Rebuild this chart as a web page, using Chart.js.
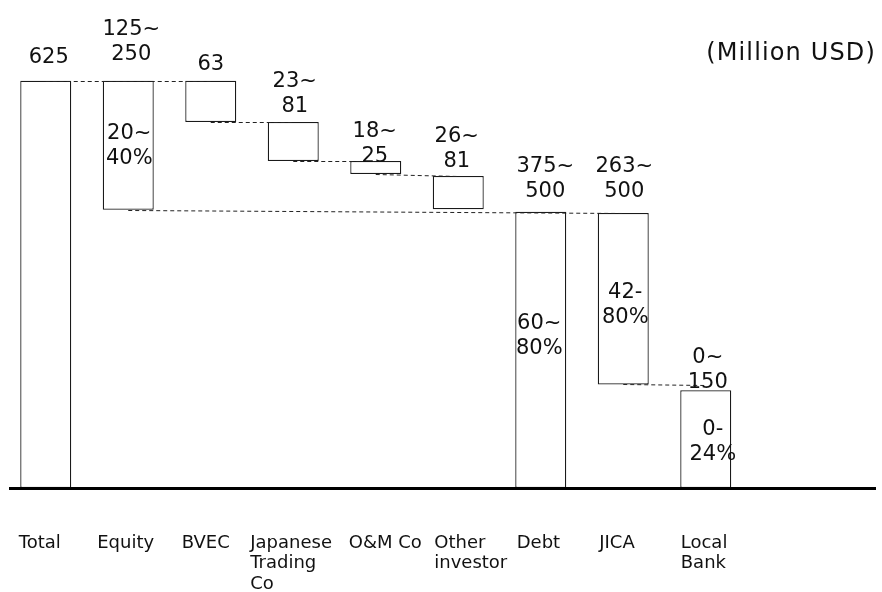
<!DOCTYPE html>
<html>
<head>
<meta charset="utf-8">
<title>Project financing structure</title>
<script src="https://cdn.jsdelivr.net/npm/chart.js@4/dist/chart.umd.min.js"></script>
<style>
  html, body { margin: 0; padding: 0; background: #ffffff; }
  #wrap { width: 882px; height: 592px; }
</style>
</head>
<body>
<div id="wrap"><canvas id="chart" width="882" height="592"></canvas></div>
<script>
// Financing sources (Million USD): each bar spans [low, high]
const categories = ['Total', 'Equity', 'BVEC', 'Japanese Trading Co', 'O&M Co', 'Other investor', 'Debt', 'JICA', 'Local Bank'];
const tickLabels = [['Total'], ['Equity'], ['BVEC'], ['Japanese', 'Trading', 'Co'], ['O&M Co'], ['Other', 'investor'], ['Debt'], ['JICA'], ['Local', 'Bank']];
const barLow  = [0,   427, 562, 502, 482, 428, 0,   159, 0];
const barHigh = [625, 625, 625, 562, 502, 479, 424, 422, 150];

// Amount ranges written above each bar, and share of total written inside
const valueLabels = [['625'], ['125~', '250'], ['63'], ['23~', '81'], ['18~', '25'], ['26~', '81'], ['375~', '500'], ['263~', '500'], ['0~', '150']];
const shareLabels = [null, ['20~', '40%'], null, null, null, null, ['60~', '80%'], ['42-', '80%'], ['0-', '24%']];
const unitLabel = '(Million USD)';

// Dashed bridges: [from bar, edge, to bar, edge]; a null end edge keeps the line level
const bridges = [
  [0, 'high', 2, 'high'],
  [2, 'low', 3, 'high'],
  [3, 'low', 4, 'high'],
  [4, 'low', 5, 'high'],
  [1, 'low', 7, 'high'],
  [7, 'low', 8, null]
];

const FONT = '"DejaVu Sans", Verdana, sans-serif';

const edgeValue = (i, edge) => (edge === 'low' ? barLow[i] : barHigh[i]);

const waterfallNotes = {
  id: 'waterfallNotes',
  beforeDraw(chart, args, opts) {
    // fine horizontal placement of individual category labels
    const xs = chart.scales.x;
    if (typeof xs.getLabelItems !== 'function') return;
    const items = xs.getLabelItems();
    items.forEach((item, i) => {
      const n = opts.tickNudge[i] || 0;
      if (n && item.options && item.options.translation && !item._nudged) {
        item.options.translation[0] += n;
        item._nudged = true;
      }
    });
  },
  afterDatasetsDraw(chart, args, opts) {
    const ctx = chart.ctx;
    const meta = chart.getDatasetMeta(0);
    const yScale = chart.scales.y;
    ctx.save();

    // bridges between bars
    ctx.strokeStyle = opts.bridgeColor;
    ctx.lineWidth = 1;
    ctx.setLineDash(opts.dash);
    bridges.forEach(([a, ea, b, eb]) => {
      const y1 = Math.round(yScale.getPixelForValue(edgeValue(a, ea))) + 0.5;
      const y2 = eb ? Math.round(yScale.getPixelForValue(edgeValue(b, eb))) + 0.5 : y1 + 1;
      ctx.beginPath();
      ctx.moveTo(meta.data[a].x, y1);
      ctx.lineTo(meta.data[b].x, y2);
      ctx.stroke();
    });
    ctx.setLineDash([]);

    ctx.fillStyle = opts.textColor;
    ctx.font = opts.labelSize + 'px ' + FONT;
    ctx.textAlign = 'center';
    ctx.textBaseline = 'alphabetic';
    const capHalf = opts.labelSize * 0.729 / 2;

    meta.data.forEach((bar, i) => {
      const top = Math.min(bar.y, bar.base);
      const bottom = Math.max(bar.y, bar.base);

      // amount above the bar
      const lines = valueLabels[i];
      const [dx, gap] = opts.valueShift[i];
      lines.forEach((t, k) => {
        ctx.fillText(t, bar.x + dx, top - gap - (lines.length - 1 - k) * opts.lineStep);
      });

      // share inside the bar
      const inner = shareLabels[i];
      if (inner) {
        const [sx, sy] = opts.shareShift[i];
        const mid = (top + bottom) / 2 + sy;
        inner.forEach((t, k) => {
          const yy = mid - (inner.length - 1) / 2 * opts.lineStep + k * opts.lineStep + capHalf;
          ctx.fillText(t, bar.x + sx, yy);
        });
      }
    });

    // unit note, top right
    ctx.font = opts.unitSize + 'px ' + FONT;
    ctx.textAlign = 'right';
    try { ctx.letterSpacing = '1.15px'; } catch (e) {}
    ctx.fillText(unitLabel, chart.chartArea.right + 1, opts.unitBaseline);
    try { ctx.letterSpacing = '0px'; } catch (e) {}

    ctx.restore();
  }
};

const points = categories.map((c, i) => ({ x: i, y: [barLow[i], barHigh[i]] }));

new Chart(document.getElementById('chart'), {
  type: 'bar',
  data: {
    datasets: [{
      label: 'Financing',
      data: points,
      backgroundColor: '#ffffff',
      borderColor: '#1a1a1a',
      borderWidth: 1.25,
      borderSkipped: false,
      inflateAmount: 0,
      barThickness: 51
    }]
  },
  options: {
    responsive: false,
    animation: false,
    events: [],
    layout: { padding: { left: 10, right: 7, top: 32, bottom: 0 } },
    plugins: {
      legend: { display: false },
      tooltip: { enabled: false },
      title: { display: false },
      waterfallNotes: {
        bridgeColor: '#222222',
        textColor: '#111111',
        dash: [4, 3],
        labelSize: 21,
        lineStep: 25,
        unitSize: 24,
        unitBaseline: 60,
        tickNudge: [0, -4, -2, -16, 0, 3, 3, 3, 2],
        valueShift: [[3, 18], [3, 21], [0, 11], [1.5, 10], [-1, -1], [-1.5, 9], [4.5, 15], [1, 16], [2, 2]],
        shareShift: [[0, 0], [1, -2], [0, 0], [0, 0], [0, 0], [0, 0], [-1.5, -16], [2, 4], [7, 1]]
      }
    },
    scales: {
      x: {
        type: 'linear',
        bounds: 'data',
        offset: false,
        min: -0.43333,
        max: 10.0515,
        grid: { display: false, drawTicks: false },
        border: { display: true, color: '#000000', width: 3, z: 1 },
        afterBuildTicks(scale) {
          scale.ticks = categories.map((c, i) => ({ value: i }));
        },
        afterFit(scale) {
          scale.height = 104;
        },
        ticks: {
          autoSkip: false,
          maxRotation: 0,
          minRotation: 0,
          align: 'start',
          labelOffset: -27,
          padding: 45,
          color: '#111111',
          font: { family: FONT, size: 18, lineHeight: 1.14 },
          callback: (value) => tickLabels[value] || ''
        }
      },
      y: {
        display: false,
        min: 0,
        max: 700
      }
    }
  },
  plugins: [waterfallNotes]
});
</script>
</body>
</html>
